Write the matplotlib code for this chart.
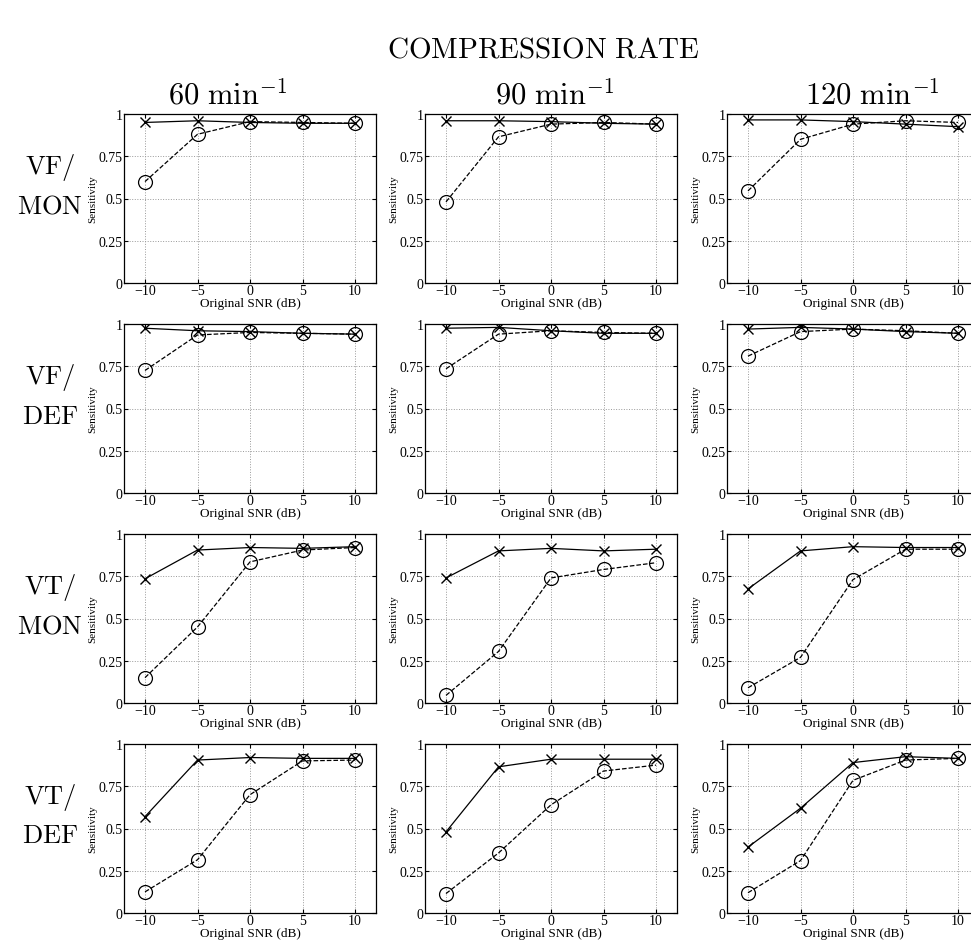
import matplotlib
matplotlib.use("Agg")
import matplotlib.pyplot as plt

snr = [-10, -5, 0, 5, 10]
rates = ["60", "90", "120"]
rows = [("VF/", "MON"), ("VF/", "DEF"), ("VT/", "MON"), ("VT/", "DEF")]

# sensitivity, one list per compression rate (60, 90, 120 min^-1)
vf_mon_x = [[.95, .96, .95, .945, .945], [.96, .96, .955, .945, .94], [.965, .965, .955, .94, .925]]
vf_mon_o = [[.60, .88, .955, .95, .945], [.48, .865, .94, .95, .94], [.545, .85, .94, .96, .95]]
vf_def_x = [[.975, .96, .955, .945, .94], [.975, .98, .96, .945, .945], [.97, .98, .97, .955, .945]]
vf_def_o = [[.725, .935, .95, .945, .94], [.735, .94, .96, .95, .945], [.81, .955, .97, .96, .945]]
vt_mon_x = [[.735, .905, .92, .915, .925], [.74, .90, .915, .90, .91], [.675, .90, .925, .92, .92]]
vt_mon_o = [[.15, .45, .835, .905, .92], [.045, .305, .74, .79, .83], [.09, .27, .73, .91, .91]]
vt_def_x = [[.57, .905, .92, .915, .915], [.48, .865, .91, .91, .91], [.39, .62, .89, .925, .915]]
vt_def_o = [[.125, .315, .70, .90, .905], [.115, .355, .64, .84, .875], [.12, .31, .785, .905, .915]]

solid = [vf_mon_x, vf_def_x, vt_mon_x, vt_def_x]
dashed = [vf_mon_o, vf_def_o, vt_mon_o, vt_def_o]

plt.rcParams["font.family"] = ["Liberation Serif", "DejaVu Serif"]
plt.rcParams["mathtext.fontset"] = "cm"

W, H = 971, 945
fig = plt.figure(figsize=(W/100, H/100), dpi=100)

lefts = [124, 425, 727]
tops = [115, 325, 535, 745]
aw, ah = 252, 169
title_x = [228, 555, 872]

for r in range(4):
    for c in range(3):
        ax = fig.add_axes([lefts[c]/W, 1-(tops[r]+ah)/H, aw/W, ah/H])
        ax.plot(snr, solid[r][c], "k-", marker="x", ms=6.5, mew=1, lw=0.9)
        ax.plot(snr, dashed[r][c], "k--", marker="o", ms=10, mfc="none", mew=0.9, lw=0.9)
        ax.set_xlim(-12, 12)
        ax.set_ylim(0, 1)
        ax.set_xticks(snr)
        ax.set_xticklabels(["\u221210", "\u22125", "0", "5", "10"])
        ax.set_yticks([0, .25, .5, .75, 1])
        ax.set_yticklabels(["0", "0.25", "0.5", "0.75", "1"])
        ax.tick_params(direction="in", top=True, right=True, labelsize=10, length=3, pad=1)
        ax.grid(True, ls=":", color="#999999", lw=0.7)
        ax.set_xlabel("Original SNR (dB)", fontsize=9.5, labelpad=-0.5)
        ax.set_ylabel("Sensitivity", fontsize=8, labelpad=1)
        for s in ax.spines.values():
            s.set_linewidth(0.9)

for c in range(3):
    fig.text(title_x[c]/W, 1-96/H, r"$\mathrm{%s\ min}^{-1}$" % rates[c], ha="center", va="center", fontsize=22)

for r in range(4):
    yc = tops[r] + ah/2 - 30
    fig.text(50/W, 1-(yc-2)/H, r"$\mathrm{%s}$" % rows[r][0], ha="center", va="center", fontsize=19)
    fig.text(50/W, 1-(yc+38)/H, r"$\mathrm{%s}$" % rows[r][1], ha="center", va="center", fontsize=19)

fig.text(543/W, 1-50/H, r"$\mathrm{COMPRESSION\ RATE}$", ha="center", va="center", fontsize=21)

fig.savefig("out.png", dpi=100)
